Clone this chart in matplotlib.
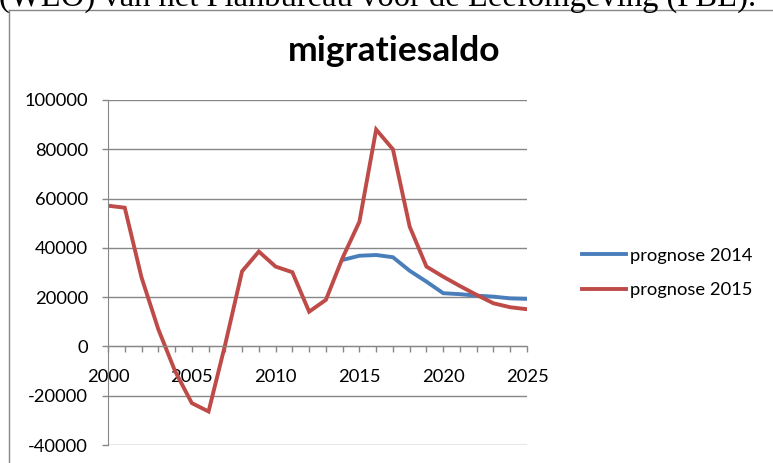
import matplotlib.pyplot as plt
from matplotlib.lines import Line2D

# data
jaren = list(range(2000, 2026))
prognose_2015 = [57100, 56300, 28000, 7000, -10000, -23000, -26400, 1000, 30500, 38500,
                 32400, 30100, 14100, 18900, 36000, 50600, 88000, 80000, 48600, 32400,
                 28300, 24500, 20900, 17500, 15900, 15100]
jaren_2014 = list(range(2014, 2026))
prognose_2014 = [35100, 36800, 37100, 36200, 30700, 26300, 21600, 21200, 20600, 20200,
                 19500, 19300]
y_ticks = [-40000, -20000, 0, 20000, 40000, 60000, 80000, 100000]
x_labels = [str(j) if j % 5 == 0 else '' for j in jaren]

W, H = 773, 463
fig = plt.figure(figsize=(W / 100, H / 100), dpi=100)

# cut-off text line above the chart
fig.text(-0.001, 1 - 6 / H, '(WLO) van het Planbureau voor de Leefomgeving (PBL).',
         family='Liberation Serif', fontsize=23.5, ha='left', va='baseline')

# chart frame (left and top edge only visible)
grijs = '#878787'
fig.add_artist(Line2D([9 / W, 9 / W], [0, 1 - 10 / H], color=grijs, lw=1))
fig.add_artist(Line2D([9 / W, 1], [1 - 10 / H, 1 - 10 / H], color=grijs, lw=1))

ax = fig.add_axes([108 / W, 18 / H, 419 / W, 345 / H])
ax.plot(jaren_2014, prognose_2014, color='#4A7EBB', lw=2.8, label='prognose 2014',
        solid_joinstyle='miter')
ax.plot(jaren, prognose_2015, color='#BE4B48', lw=2.8, label='prognose 2015',
        solid_joinstyle='miter')

ax.set_xlim(2000, 2025)
ax.set_ylim(-40000, 100000)
ax.set_yticks(y_ticks)
ax.set_yticklabels([str(v) for v in y_ticks])
ax.set_xticks(jaren)
ax.set_xticklabels(x_labels)

ax.grid(axis='y', color=grijs, lw=1)
ax.set_axisbelow(True)
for s in ['top', 'right']:
    ax.spines[s].set_visible(False)
ax.spines['bottom'].set_position(('data', 0))
ax.spines['left'].set_color(grijs)
ax.spines['bottom'].set_color(grijs)
ax.tick_params(axis='y', direction='out', length=4.5, width=1, color=grijs, pad=10,
               labelsize=13.2)
ax.tick_params(axis='x', direction='out', length=4.5, width=1, color=grijs, pad=12,
               labelsize=13.2)
for lab in ax.get_xticklabels() + ax.get_yticklabels():
    lab.set_family('Lato')

fig.text(394 / W, 1 - 51 / H, 'migratiesaldo', family='Lato', fontweight='bold',
         fontsize=25.5, ha='center', va='center')

fig.legend(loc='center left', bbox_to_anchor=(575 / W, 1 - 273 / H), frameon=False,
           prop={'family': 'Lato', 'size': 13.2}, handlelength=2.4, handletextpad=0.2,
           labelspacing=1.0, borderaxespad=0)

fig.savefig('out.png', dpi=100)
